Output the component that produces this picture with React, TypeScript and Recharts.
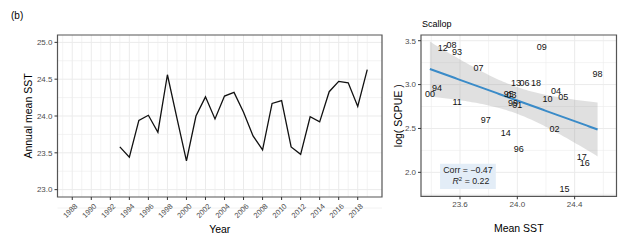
import React from "react";
import {
  LineChart,
  ComposedChart,
  Line,
  Area,
  Scatter,
  XAxis,
  YAxis,
  CartesianGrid,
  ReferenceArea,
} from "recharts";

// annual mean SST, 1993-2019
const years = [
  1993, 1994, 1995, 1996, 1997, 1998, 1999, 2000, 2001, 2002, 2003, 2004, 2005,
  2006, 2007, 2008, 2009, 2010, 2011, 2012, 2013, 2014, 2015, 2016, 2017, 2018,
  2019,
];
const sst = [
  23.58, 23.44, 23.94, 24.01, 23.78, 24.56, 23.97, 23.39, 24.0, 24.26, 23.96,
  24.27, 24.32, 24.05, 23.73, 23.54, 24.17, 24.21, 23.58, 23.48, 23.99, 23.92,
  24.33, 24.47, 24.45, 24.13, 24.63,
];
// scallop log(SCPUE), 1993-2018
const logScpue = [
  3.37, 2.96, 2.89, 2.27, 2.6, 3.12, 2.79, 2.89, 2.77, 2.49, 2.88, 2.93, 2.86,
  3.02, 3.19, 3.45, 3.43, 2.84, 2.8, 3.42, 3.02, 2.45, 1.81, 2.11, 2.175, 3.02,
];

const yearTicks = [1988, 1990, 1992, 1994, 1996, 1998, 2000, 2002, 2004, 2006, 2008, 2010, 2012, 2014, 2016, 2018];
const yearMinor = [1987, 1989, 1991, 1993, 1995, 1997, 1999, 2001, 2003, 2005, 2007, 2009, 2011, 2013, 2015, 2017, 2019];
const sstTicks = [23.0, 23.5, 24.0, 24.5, 25.0];
const sstMinor = [22.75, 23.25, 23.75, 24.25, 24.75];
const meanSstTicks = [23.6, 24.0, 24.4];
const meanSstMinor = [23.4, 23.8, 24.2, 24.6];
const cpueTicks = [2.0, 2.5, 3.0, 3.5];
const cpueMinor = [1.75, 2.25, 2.75, 3.25];
const corrText = "Corr = \u22120.47";
const r2Value = "0.22";

const FONT = "'Liberation Sans', Arial, Helvetica, sans-serif";
const TICK = { fontSize: 8, fill: "#4d4d4d" };
const GRID = "#ebebeb";
const BORDER = "#555";

const lineData = years.map((year, i) => ({ year, sst: sst[i] }));
const points = logScpue.map((v, i) => ({
  x: sst[i],
  cpue: v,
  label: String(years[i]).slice(2),
}));

// lm fit + 95% band, as geom_smooth(method = "lm")
const fit = (() => {
  const n = points.length;
  const mx = points.reduce((s, p) => s + p.x, 0) / n;
  const my = points.reduce((s, p) => s + p.cpue, 0) / n;
  let sxx = 0;
  let sxy = 0;
  points.forEach((p) => {
    sxx += (p.x - mx) ** 2;
    sxy += (p.x - mx) * (p.cpue - my);
  });
  const b1 = sxy / sxx;
  const b0 = my - b1 * mx;
  let sse = 0;
  points.forEach((p) => (sse += (p.cpue - b0 - b1 * p.x) ** 2));
  const s = Math.sqrt(sse / (n - 2));
  const t = 2.064;
  const lo = Math.min(...points.map((p) => p.x));
  const hi = Math.max(...points.map((p) => p.x));
  const out = [];
  for (let k = 0; k <= 80; k++) {
    const x = lo + ((hi - lo) * k) / 80;
    const y = b0 + b1 * x;
    const se = s * Math.sqrt(1 / n + (x - mx) ** 2 / sxx);
    out.push({ x, fit: y, band: [y - t * se, y + t * se] });
  }
  return out;
})();

const YearTick = ({ x, y, payload }: any) => (
  <g transform={`translate(${x + 2},${y + 1})`}>
    <text
      textAnchor="end"
      transform="rotate(-45)"
      dy="0.7em"
      fontSize={7.5}
      fill="#4d4d4d"
    >
      {payload.value}
    </text>
  </g>
);

const PointLabel = ({ cx, cy, payload }: any) => (
  <text x={cx} y={cy} dy="0.35em" textAnchor="middle" fontSize={9} fill="#111">
    {payload.label}
  </text>
);

const CorrLabel = ({ viewBox }: any) => {
  const { x, y, width } = viewBox;
  return (
    <g fontSize={8.8} fill="#222">
      <text x={x + width / 2} y={y + 9.5} textAnchor="middle">
        {corrText}
      </text>
      <text x={x + width / 2 + 3} y={y + 20} textAnchor="middle">
        <tspan fontStyle="italic">R</tspan>
        <tspan fontSize={6} dy={-3}>2</tspan>
        <tspan dy={3}>{" = " + r2Value}</tspan>
      </text>
    </g>
  );
};

const App = () => {
  return (
    <div
      style={{
        position: "absolute",
        left: 0,
        top: 0,
        width: 627,
        height: 244,
        background: "#fff",
        fontFamily: FONT,
      }}
    >
      <div style={{ position: "absolute", left: 11, top: 10, fontSize: 10 }}>(b)</div>
      <div style={{ position: "absolute", left: 422, top: 19, fontSize: 9 }}>Scallop</div>

      <div style={{ position: "absolute", left: 0, top: 0 }}>
        <LineChart
          width={384}
          height={244}
          data={lineData}
          margin={{ top: 35, right: 2, left: 0, bottom: 0 }}
        >
          <CartesianGrid verticalValues={yearMinor} horizontalValues={sstMinor} stroke={GRID} strokeWidth={0.6} />
          <CartesianGrid verticalValues={yearTicks} horizontalValues={sstTicks} stroke={GRID} strokeWidth={1} />
          <XAxis
            dataKey="year"
            type="number"
            domain={[1986.45, 2020.55]}
            ticks={yearTicks}
            interval={0}
            tick={<YearTick />}
            tickSize={3}
            height={47}
            axisLine={false}
            tickLine={{ stroke: "#333" }}
            label={{ value: "Year", position: "insideBottom", offset: 11, fontSize: 10.5, fill: "#000" }}
          />
          <YAxis
            type="number"
            domain={[22.9, 25.1]}
            ticks={sstTicks}
            interval={0}
            tickFormatter={(v: number) => v.toFixed(1)}
            tick={TICK}
            tickSize={3}
            width={57.5}
            axisLine={false}
            tickLine={{ stroke: "#333" }}
            label={{
              value: "Annual mean SST",
              angle: -90,
              position: "insideLeft",
              offset: 28,
              fontSize: 10.5,
              fill: "#000",
              style: { textAnchor: "middle" },
            }}
          />
          <Line
            dataKey="sst"
            stroke="#111"
            strokeWidth={1.3}
            dot={false}
            type="linear"
            isAnimationActive={false}
          />
          <ReferenceArea x1={1986.45} x2={2020.55} y1={22.9} y2={25.1} fill="none" stroke={BORDER} strokeWidth={1.2} />
        </LineChart>
      </div>

      <div style={{ position: "absolute", left: 380, top: 0 }}>
        <ComposedChart
          width={247}
          height={244}
          margin={{ top: 35, right: 10.5, left: 0, bottom: 0 }}
        >
          <CartesianGrid verticalValues={meanSstMinor} horizontalValues={cpueMinor} stroke={GRID} strokeWidth={0.6} />
          <CartesianGrid verticalValues={meanSstTicks} horizontalValues={cpueTicks} stroke={GRID} strokeWidth={1} />
          <XAxis
            dataKey="x"
            type="number"
            domain={[23.328, 24.692]}
            ticks={meanSstTicks}
            interval={0}
            tickFormatter={(v: number) => v.toFixed(1)}
            tick={TICK}
            tickSize={3}
            height={47.7}
            axisLine={false}
            tickLine={{ stroke: "#333" }}
            allowDataOverflow
            label={{ value: "Mean SST", position: "insideBottom", offset: 12, fontSize: 10.5, fill: "#000" }}
          />
          <YAxis
            type="number"
            domain={[1.727, 3.565]}
            ticks={cpueTicks}
            interval={0}
            tickFormatter={(v: number) => v.toFixed(1)}
            tick={TICK}
            tickSize={3}
            width={41}
            axisLine={false}
            tickLine={{ stroke: "#333" }}
            allowDataOverflow
            label={{
              value: "log( SCPUE )",
              angle: -90,
              position: "insideLeft",
              offset: 18,
              fontSize: 10.5,
              fill: "#000",
              style: { textAnchor: "middle" },
            }}
          />
          <Area
            data={fit}
            dataKey="band"
            stroke="none"
            fill="#999999"
            fillOpacity={0.3}
            type="linear"
            isAnimationActive={false}
          />
          <Line
            data={fit}
            dataKey="fit"
            stroke="#3a8bc8"
            strokeWidth={2}
            dot={false}
            type="linear"
            isAnimationActive={false}
          />
          <Scatter
            data={points}
            dataKey="cpue"
            shape={<PointLabel />}
            isAnimationActive={false}
          />
          <ReferenceArea
            x1={23.461}
            x2={23.85}
            y1={1.811}
            y2={2.099}
            fill="#e3edf7"
            fillOpacity={1}
            stroke="none"
            label={<CorrLabel />}
          />
          <ReferenceArea x1={23.328} x2={24.692} y1={1.727} y2={3.565} fill="none" stroke={BORDER} strokeWidth={1.2} />
        </ComposedChart>
      </div>
    </div>
  );
};

export default App;
